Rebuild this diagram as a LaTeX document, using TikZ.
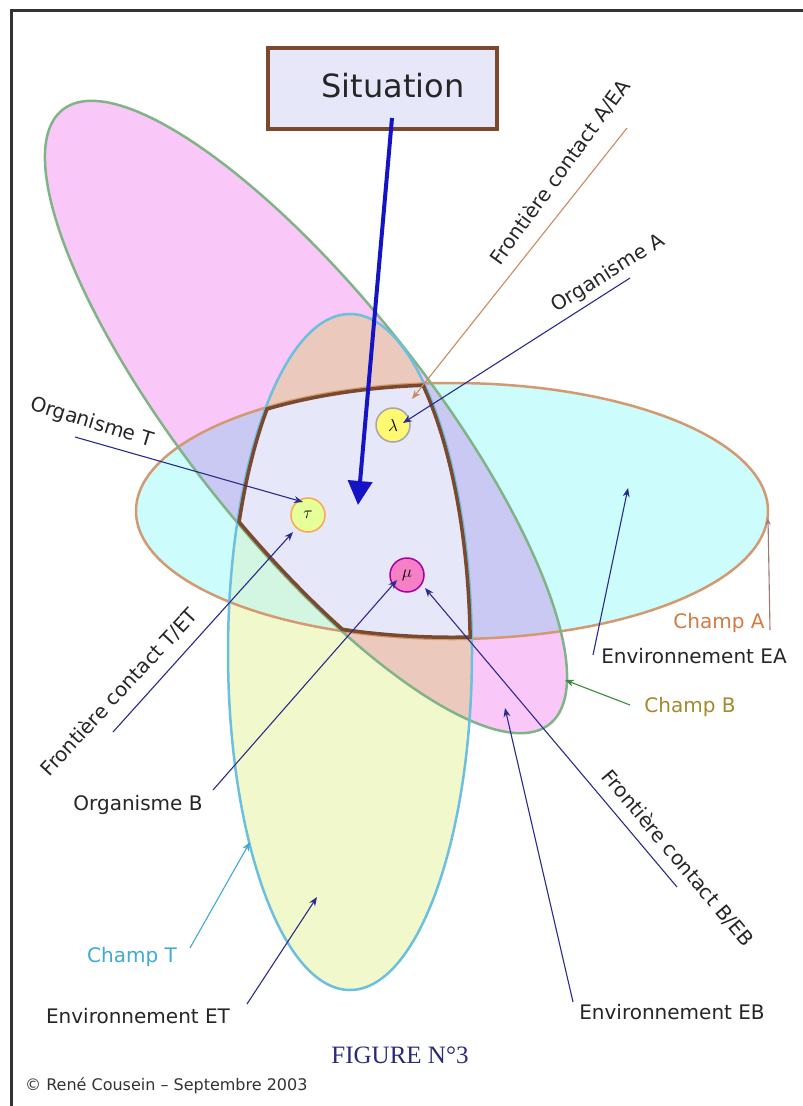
\documentclass[tikz,border=0pt]{standalone}
\usepackage{fontspec}
\setmainfont{DejaVu Sans}
\newfontfamily\figserif{Liberation Serif}
\usetikzlibrary{arrows.meta}
\definecolor{cA}{HTML}{CCFCFC}
\definecolor{cB}{HTML}{F9C8F9}
\definecolor{cT}{HTML}{F1F9CC}
\definecolor{cAB}{HTML}{C9C9F3}
\definecolor{cBT}{HTML}{ECC9BD}
\definecolor{cAT}{HTML}{D2F6E2}
\definecolor{cABT}{HTML}{E7E7FA}
\definecolor{bA}{HTML}{D39A72}
\definecolor{bB}{HTML}{80B487}
\definecolor{bT}{HTML}{6CBFDF}
\definecolor{front}{HTML}{7B4A2E}
\definecolor{navy}{HTML}{2B2B8C}
\definecolor{bigblue}{HTML}{1414C4}
\definecolor{orangeA}{HTML}{D27A45}
\definecolor{oliveB}{HTML}{A48A2E}
\definecolor{blueT}{HTML}{3FAAD2}
\definecolor{figblue}{HTML}{2A2A78}
\definecolor{lineAEA}{HTML}{C98A60}
\definecolor{lineA}{HTML}{A07878}
\definecolor{lineB}{HTML}{3C8C3C}
\def\ellA{(452,511) ellipse [x radius=316, y radius=128]}
\def\ellB{(306,417) ellipse [x radius=392, y radius=120, rotate=-51.6]}
\def\ellT{(350,652) ellipse [x radius=122, y radius=338]}
\tikzset{
  lbl/.style={font=\fontsize{20}{23}\selectfont, text=black!85, inner sep=0pt},
  con/.style={draw=navy, line width=1.1pt, -{Stealth[length=9pt,width=7pt]}},
  circ/.style={circle, minimum size=34pt, inner sep=0pt, line width=1.5pt, font=\fontsize{18}{18}\selectfont},
  border/.style={line width=2.5pt},
}
\begin{document}
\begin{tikzpicture}[x=1pt,y=-1pt]
\useasboundingbox (0,0) rectangle (803,1106);
\fill[white] (0,0) rectangle (803,1106);
% fills
\fill[cA] \ellA;
\fill[cB] \ellB;
\fill[cT] \ellT;
\begin{scope}\clip \ellA; \fill[cAB] \ellB; \end{scope}
\begin{scope}\clip \ellB; \fill[cBT] \ellT; \end{scope}
\begin{scope}\clip \ellA; \fill[cAT] \ellT; \end{scope}
\begin{scope}\clip \ellA; \clip \ellB; \clip \ellT; \fill[cABT] (0,0) rectangle (803,1106); \end{scope}
% borders
\draw[border, bA] \ellA;
\draw[border, bB] \ellB;
\draw[border, bT] \ellT;
\begin{scope}\clip \ellA; \clip \ellB; \clip \ellT;
  \draw[front, line width=7pt] \ellA;
  \draw[front, line width=7pt] \ellB;
  \draw[front, line width=7pt] \ellT;
\end{scope}
% frame
\draw[line width=3pt, black!80] (11,1106) -- (11,10) -- (803,10);
% situation
\node[draw=front, fill=cABT, line width=4pt, minimum width=229pt, minimum height=81pt, inner sep=0pt] (sit) at (382,88) {};
\node[font=\fontsize{32}{36}\selectfont, text=black!85, inner sep=0pt] (sitText) at (393,86) {Situation};
\coordinate (sitS) at (392,118);
\coordinate (sitE) at (358,505);
\draw[bigblue, line width=4pt, -{Triangle[length=24pt,width=24pt]}] (sitS) -- (sitE);
% organism circles
\node[circ, fill=yellow!55!white, draw=black!35] (oA) at (393,425) {$\lambda$};
\node[circ, fill=green!25!yellow!40!white, draw=orange!70!white] (oT) at (308,515) {$\tau$};
\node[circ, fill=magenta!50!white, draw=violet!70!magenta] (oB) at (407,575) {$\mu$};
% labels
\node[lbl, rotate=54] (tAEA) at (560,172) {Frontière contact A/EA};
\coordinate (sAEA) at (627,128); \coordinate (eAEA) at (412,399);
\draw[draw=lineAEA, line width=1.1pt, -{Stealth[length=9pt,width=7pt]}] (sAEA) -- (eAEA);

\node[lbl, rotate=32] (tOA) at (608,274) {Organisme A};
\coordinate (sOA) at (630,278); \coordinate (eOA) at (403,423);
\draw[con] (sOA) -- (eOA);

\node[lbl, rotate=-17] (tOT) at (92,423) {Organisme T};
\coordinate (sOT) at (75,437); \coordinate (eOT) at (303,502);
\draw[con] (sOT) -- (eOT);

\node[lbl, rotate=47] (tTET) at (119,692) {Frontière contact T/ET};
\coordinate (sTET) at (113,732); \coordinate (eTET) at (293,532);
\draw[con] (sTET) -- (eTET);

\node[lbl] (tOB) at (138,805) {Organisme B};
\coordinate (sOB) at (213,790); \coordinate (eOB) at (397,580);
\draw[con] (sOB) -- (eOB);

\node[lbl, text=blueT] (tCT) at (132,957) {Champ T};
\coordinate (sCT) at (190,948); \coordinate (eCT) at (250,842);
\draw[draw=blueT, line width=1.1pt, -{Stealth[length=9pt,width=7pt]}] (sCT) -- (eCT);

\node[lbl] (tET) at (138,1016) {Environnement ET};
\coordinate (sET) at (247,1004); \coordinate (eET) at (317,897);
\draw[con] (sET) -- (eET);

\node[lbl] (tEB) at (672,1012) {Environnement EB};
\coordinate (sEB) at (573,1002); \coordinate (eEB) at (505,708);
\draw[con] (sEB) -- (eEB);

\node[lbl, rotate=-50] (tBEB) at (678,858) {Frontière contact B/EB};
\coordinate (sBEB) at (677,887); \coordinate (eBEB) at (425,588);
\draw[con] (sBEB) -- (eBEB);

\node[lbl, text=orangeA] (tCA) at (719,623) {Champ A};
\coordinate (sCA) at (770,630); \coordinate (eCA) at (768,518);
\draw[draw=lineA, line width=1.1pt, -{Stealth[length=7pt,width=5pt]}] (sCA) -- (eCA);

\node[lbl] (tEA) at (694,656) {Environnement EA};
\coordinate (sEA) at (593,655); \coordinate (eEA) at (628,488);
\draw[con] (sEA) -- (eEA);

\node[lbl, text=oliveB] (tCB) at (690,707) {Champ B};
\coordinate (sCB) at (630,705); \coordinate (eCB) at (565,680);
\draw[draw=lineB, line width=1.1pt, -{Stealth[length=9pt,width=7pt]}] (sCB) -- (eCB);

% captions
\node[font=\figserif\fontsize{25}{28}\selectfont, text=figblue, inner sep=0pt] (fig) at (400,1055) {FIGURE N°3};
\node[font=\fontsize{16}{19}\selectfont, text=black!80, inner sep=0pt, anchor=west] (copy) at (25,1086) {© René Cousein – Septembre 2003};
\end{tikzpicture}
\end{document}
